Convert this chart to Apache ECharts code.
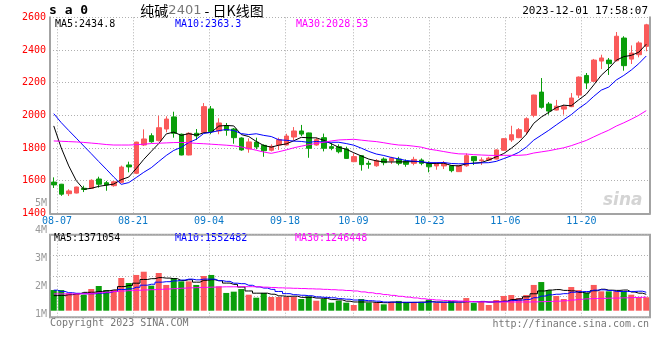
<!DOCTYPE html>
<html><head><meta charset="utf-8">
<script src="https://cdn.jsdelivr.net/npm/echarts@6/dist/echarts.min.js"></script>
<style>html,body{margin:0;padding:0;background:#fff}#c{width:660px;height:360px}</style>
</head><body><div id="c"></div>
<script>
// ---- data ----
const dates = ['08-04','08-07','08-08','08-09','08-10','08-11','08-14','08-15','08-16','08-17','08-18','08-21','08-22','08-23','08-24','08-25','08-28','08-29','08-30','08-31',
'09-01','09-04','09-05','09-06','09-07','09-08','09-11','09-12','09-13','09-14','09-15','09-18','09-19','09-20','09-21','09-22','09-25','09-26','09-27','09-28',
'10-09','10-10','10-11','10-12','10-13','10-16','10-17','10-18','10-19','10-20','10-23','10-24','10-25','10-26','10-27','10-30','10-31',
'11-01','11-02','11-03','11-06','11-07','11-08','11-09','11-10','11-13','11-14','11-15','11-16','11-17','11-20','11-21','11-22','11-23','11-24','11-27','11-28','11-29','11-30','12-01'];
const xTickLabels = ['08-07','08-21','09-04','09-18','10-09','10-23','11-06','11-20'];

const open  = [1591,1578,1520,1524,1553,1553,1610,1587,1569,1590,1696,1645,1818,1875,1845,1916,1990,1884,1757,1890,
1896,2039,1904,1935,1916,1861,1794,1836,1816,1786,1818,1818,1867,1904,1892,1818,1863,1808,1808,1794,
1716,1753,1706,1691,1732,1720,1732,1720,1706,1726,1706,1690,1690,1691,1655,1691,1747,1722,1726,1732,
1786,1849,1863,1900,2000,2142,2069,2032,2038,2053,2124,2244,2208,2332,2338,2334,2473,2344,2371,2422];
const close = [1574,1517,1537,1561,1546,1602,1578,1574,1593,1683,1684,1836,1855,1838,1924,1977,1890,1757,1890,1874,
2053,1900,1953,1908,1863,1788,1837,1806,1783,1810,1851,1873,1904,1885,1798,1851,1798,1798,1777,1736,
1747,1698,1700,1722,1710,1738,1706,1700,1730,1706,1685,1706,1706,1661,1691,1753,1722,1727,1738,1788,
1857,1881,1912,1979,2124,2049,2026,2056,2053,2106,2234,2198,2338,2351,2316,2484,2304,2381,2443,2554];
const low   = [1555,1507,1506,1522,1530,1550,1557,1538,1563,1584,1651,1640,1812,1832,1840,1896,1863,1755,1755,1849,
1893,1884,1884,1875,1826,1783,1771,1792,1746,1779,1788,1816,1847,1873,1740,1814,1779,1786,1767,1734,
1714,1661,1673,1685,1694,1702,1694,1685,1694,1694,1651,1667,1671,1651,1653,1685,1696,1696,1720,1730,
1782,1837,1860,1881,1988,2041,2004,2030,2004,2050,2106,2161,2204,2283,2247,2330,2273,2314,2355,2392];
const high  = [1620,1580,1547,1563,1569,1608,1624,1598,1597,1692,1716,1838,1914,1890,1997,1994,2022,1888,1896,1916,
2075,2057,1982,1953,1922,1865,1859,1863,1822,1822,1863,1887,1928,1941,1894,1863,1888,1830,1822,1808,
1767,1755,1722,1732,1742,1746,1746,1730,1746,1736,1718,1712,1720,1696,1694,1767,1749,1742,1746,1792,
1860,1936,1922,1988,2126,2228,2081,2094,2065,2136,2238,2259,2345,2371,2351,2510,2484,2428,2453,2560];

const ma5  = [1935,1800,1690,1600,1547,1553,1565,1572,1579,1606,1622,1674,1730,1779,1827,1886,1897,1877,1888,1878,
1893,1895,1934,1938,1935,1882,1870,1840,1815,1805,1817,1825,1844,1865,1862,1862,1847,1826,1804,1792,
1771,1751,1732,1721,1715,1714,1715,1715,1717,1716,1705,1705,1707,1693,1690,1703,1707,1711,1726,1746,
1766,1798,1835,1883,1951,1989,2018,2047,2062,2058,2095,2129,2186,2245,2287,2337,2359,2367,2386,2435];
const ma10 = [2010,1955,1907,1860,1812,1765,1717,1670,1622,1577,1588,1619,1651,1679,1717,1754,1785,1804,1833,1853,
1889,1896,1906,1913,1907,1888,1882,1887,1877,1870,1850,1847,1842,1840,1834,1840,1836,1835,1835,1827,
1817,1799,1779,1763,1754,1742,1733,1723,1719,1716,1710,1710,1711,1705,1703,1704,1706,1709,1710,1718,
1735,1752,1773,1805,1848,1878,1908,1941,1973,2004,2042,2074,2116,2154,2173,2216,2244,2277,2316,2363];
const ma30 = [1843,1841,1839,1837,1834,1830,1826,1821,1818,1818,1818,1820,1823,1827,1829,1831,1833,1834,1832,1828,
1826,1823,1820,1817,1813,1806,1797,1786,1775,1767,1777,1788,1801,1811,1820,1828,1835,1843,1849,1851,
1853,1848,1843,1839,1832,1824,1818,1816,1811,1805,1793,1786,1778,1770,1764,1763,1759,1757,1755,1754,
1755,1755,1755,1758,1769,1776,1783,1792,1801,1814,1830,1846,1868,1889,1909,1934,1954,1976,2000,2028.5];

// volume in millions
const volume = [1.78,1.78,1.50,1.44,1.38,1.87,2.13,1.78,1.78,2.82,2.39,3.08,3.36,2.16,3.25,2.22,2.82,2.53,2.53,2.22,
2.99,3.08,2.10,1.53,1.64,1.87,1.38,1.12,1.53,1.18,1.18,1.18,1.18,1.01,1.24,0.86,1.01,0.69,0.86,0.69,
0.49,1.01,0.69,0.69,0.55,0.75,0.84,0.69,0.75,0.69,0.95,0.66,0.66,0.81,0.69,1.09,0.66,0.75,0.49,0.92,
1.27,1.35,1.09,1.35,2.22,2.47,1.78,1.27,1.01,2.04,1.78,1.53,2.22,1.67,1.67,1.67,1.67,1.38,1.16,1.16];
const volMa5 = [1.30,1.32,1.38,1.45,1.58,1.59,1.66,1.72,1.79,2.08,2.18,2.37,2.69,2.76,2.85,2.81,2.76,2.60,2.67,2.46,
2.62,2.67,2.58,2.38,2.27,2.04,1.70,1.51,1.51,1.42,1.28,1.24,1.25,1.15,1.16,1.09,1.06,0.96,0.93,0.82,
0.75,0.75,0.75,0.71,0.69,0.74,0.70,0.70,0.72,0.74,0.78,0.75,0.74,0.75,0.75,0.78,0.78,0.80,0.74,0.78,
0.82,0.96,1.02,1.20,1.46,1.70,1.78,1.82,1.75,1.71,1.58,1.53,1.72,1.85,1.77,1.75,1.78,1.61,1.51,1.41];
const volMa10 = [1.77,1.66,1.55,1.50,1.46,1.46,1.50,1.55,1.65,1.83,1.89,2.02,2.20,2.28,2.46,2.50,2.57,2.64,2.72,2.66,
2.72,2.72,2.59,2.53,2.37,2.33,2.19,2.05,1.95,1.84,1.66,1.47,1.38,1.33,1.29,1.19,1.15,1.11,1.04,0.99,
0.92,0.90,0.86,0.82,0.75,0.74,0.73,0.73,0.72,0.72,0.76,0.73,0.72,0.74,0.75,0.78,0.77,0.77,0.75,0.77,
0.80,0.87,0.91,0.97,1.12,1.26,1.37,1.42,1.47,1.59,1.64,1.65,1.77,1.80,1.74,1.66,1.65,1.66,1.68,1.59];
const volMa30 = [1.45,1.45,1.45,1.45,1.46,1.50,1.55,1.60,1.66,1.70,1.73,1.76,1.79,1.81,1.84,1.87,1.90,1.94,1.97,1.99,
2.01,2.03,2.05,2.06,2.06,2.07,2.07,2.06,2.03,2.00,1.97,1.95,1.93,1.91,1.89,1.87,1.84,1.81,1.78,1.74,
1.70,1.62,1.55,1.47,1.39,1.32,1.24,1.17,1.10,1.03,0.97,0.92,0.88,0.86,0.83,0.80,0.78,0.76,0.75,0.75,
0.75,0.75,0.75,0.75,0.76,0.78,0.80,0.82,0.86,0.92,0.98,1.02,1.05,1.06,1.08,1.09,1.11,1.13,1.15,1.18];

const priceLegend = ['MA5:2434.8','MA10:2363.3','MA30:2028.53'];
const volLegend = ['MA5:1371054','MA10:1552482','MA30:1246448'];

// ---- chart ----
const UP = '#fa5a5a', DOWN = '#0a9e0a';
const MONO = '"DejaVu Sans Mono", monospace';
const FRAME = '#a3a3a3';
const dotted = {show:true, lineStyle:{color:'#b0b0b0', width:1, type:[1,2]}};
const isTick = (i, v) => xTickLabels.indexOf(v) >= 0;

const candleData = open.map((o,i)=>[o, close[i], low[i], high[i]]);
const volData = volume.map((v,i)=>({value:v, itemStyle:{color: close[i] >= open[i] ? UP : DOWN}}));
const lineColors = ['#000000','#0000ff','#ff00ff'];

const chart = echarts.init(document.getElementById('c'), null, {renderer:'canvas'});
chart.setOption({
  animation:false,
  backgroundColor:'#ffffff',
  grid:[
    {left:50, top:17.3, width:600, height:196},
    {left:49.4, top:17.3, width:600.4, height:196},
    {left:50, top:234.7, width:600, height:82.6, show:true, borderColor:FRAME, borderWidth:2, backgroundColor:'transparent'},
    {left:49.4, top:234.7, width:600.4, height:82.6},
    {left:50, top:234.7, width:600, height:76},
    {left:50, top:203, width:600, height:111.4}
  ],
  xAxis:[
    {gridIndex:0, type:'category', data:dates, boundaryGap:true,
     axisLine:{show:true, lineStyle:{color:FRAME, width:2}}, axisTick:{show:false}, axisLabel:{show:false}, splitLine:{show:false}},
    {gridIndex:1, type:'category', data:dates, boundaryGap:false,
     axisLine:{show:false}, axisTick:{show:false},
     axisLabel:{interval:isTick, color:'#0a78c8', fontFamily:MONO, fontSize:10, margin:3},
     splitLine:Object.assign({interval:isTick}, dotted)},
    {gridIndex:2, type:'value', min:0, max:1, show:false},
    {gridIndex:3, type:'category', data:dates, boundaryGap:false,
     axisLine:{show:false}, axisTick:{show:false}, axisLabel:{show:false},
     splitLine:Object.assign({interval:isTick}, dotted)},
    {gridIndex:4, type:'category', data:dates, boundaryGap:true, show:false},
    {gridIndex:5, type:'value', min:0, max:1, show:false}
  ],
  yAxis:[
    {gridIndex:0, type:'value', min:1400, max:2600, interval:200, position:'left',
     axisLine:{show:true, lineStyle:{color:FRAME, width:2}}, axisTick:{show:false},
     axisLabel:{color:'#ff0000', fontFamily:MONO, fontSize:10, margin:4, formatter:(v)=>String(v)}, splitLine:dotted},
    {gridIndex:0, type:'value', min:1400, max:2600, position:'right',
     axisLine:{show:true, lineStyle:{color:FRAME, width:2}}, axisTick:{show:false}, axisLabel:{show:false}, splitLine:{show:false}},
    {gridIndex:1, type:'value', min:0, max:1, show:false},
    {gridIndex:2, type:'value', min:0, max:4, interval:1,
     axisLine:{show:false}, axisTick:{show:false}, axisLabel:{show:false}, splitLine:dotted},
    {gridIndex:3, type:'value', min:0, max:1, show:false},
    {gridIndex:4, type:'value', min:0, max:6.55, show:false},
    {gridIndex:5, type:'value', min:1, max:5, interval:1,
     axisLine:{show:false}, axisTick:{show:false}, splitLine:{show:false},
     axisLabel:{color:'#999999', fontFamily:MONO, fontSize:10, margin:3, formatter:(v)=>v+'M'}}
  ],
  series:[
    {type:'candlestick', xAxisIndex:0, yAxisIndex:0, data:candleData, barWidth:5,
     itemStyle:{color:UP, color0:DOWN, borderColor:UP, borderColor0:DOWN, borderWidth:1}},
    {type:'line', xAxisIndex:0, yAxisIndex:0, data:ma5, symbol:'none', lineStyle:{color:lineColors[0], width:1}},
    {type:'line', xAxisIndex:0, yAxisIndex:0, data:ma10, symbol:'none', lineStyle:{color:lineColors[1], width:1}},
    {type:'line', xAxisIndex:0, yAxisIndex:0, data:ma30, symbol:'none', lineStyle:{color:lineColors[2], width:1}},
    {type:'bar', xAxisIndex:4, yAxisIndex:5, data:volData, barWidth:6},
    {type:'line', xAxisIndex:4, yAxisIndex:5, data:volMa5, symbol:'none', step:'middle', lineStyle:{color:lineColors[0], width:1}},
    {type:'line', xAxisIndex:4, yAxisIndex:5, data:volMa10, symbol:'none', step:'middle', lineStyle:{color:lineColors[1], width:1}},
    {type:'line', xAxisIndex:4, yAxisIndex:5, data:volMa30, symbol:'none', step:'middle', lineStyle:{color:lineColors[2], width:1}}
  ],
  graphic:[
    {type:'text', x:49, y:11, style:{text:'s a 0', font:'bold 13px '+MONO, fill:'#000', verticalAlign:'middle'}},
    {type:'text', x:202, y:11, style:{text:'{a|纯碱}{b|2401}{a| - 日K线图}', verticalAlign:'middle', align:'center',
      rich:{a:{fontFamily:'"Noto Sans CJK SC", sans-serif', fontSize:14, fill:'#000', color:'#000'},
            b:{fontFamily:'"DejaVu Sans", sans-serif', fontSize:13, fill:'#777', color:'#777'}}}},
    {type:'text', x:648, y:11.5, style:{text:'2023-12-01 17:58:07', font:'11px '+MONO, fill:'#000', align:'right', verticalAlign:'middle'}},
    {type:'text', x:55, y:24, style:{text:priceLegend[0], font:'10px '+MONO, fill:lineColors[0], verticalAlign:'middle'}},
    {type:'text', x:175, y:24, style:{text:priceLegend[1], font:'10px '+MONO, fill:lineColors[1], verticalAlign:'middle'}},
    {type:'text', x:296, y:24, style:{text:priceLegend[2], font:'10px '+MONO, fill:lineColors[2], verticalAlign:'middle'}},
    {type:'text', x:54, y:238.5, style:{text:volLegend[0], font:'10px '+MONO, fill:lineColors[0], verticalAlign:'middle'}},
    {type:'text', x:175, y:238.5, style:{text:volLegend[1], font:'10px '+MONO, fill:lineColors[1], verticalAlign:'middle'}},
    {type:'text', x:295, y:238.5, style:{text:volLegend[2], font:'10px '+MONO, fill:lineColors[2], verticalAlign:'middle'}},
    {type:'text', x:603, y:201, style:{text:'sina', font:'italic bold 17px "DejaVu Sans", sans-serif', fill:'#d4d4d4', verticalAlign:'middle'}},
    {type:'text', x:50, y:323.5, style:{text:'Copyright 2023 SINA.COM', font:'10px '+MONO, fill:'#777', verticalAlign:'middle'}},
    {type:'text', x:649, y:324, style:{text:'http://finance.sina.com.cn', font:'10px '+MONO, fill:'#777', align:'right', verticalAlign:'middle'}}
  ]
});
</script>
</body></html>
